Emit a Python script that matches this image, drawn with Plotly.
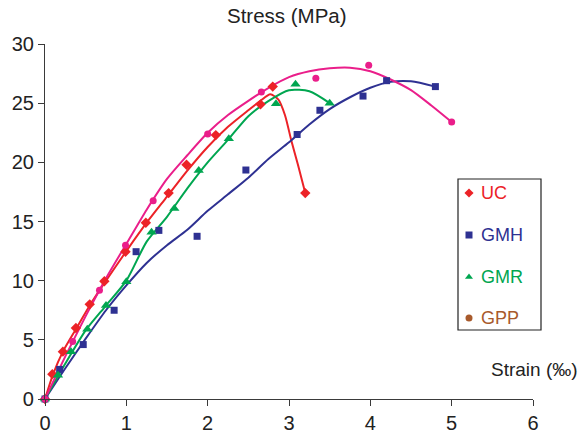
import plotly.graph_objects as go

# ---------------- data ----------------
uc_x = [0, 0.09, 0.22, 0.38, 0.55, 0.73, 0.99, 1.24, 1.52, 1.74, 2.10, 2.65, 2.80, 3.20]
uc_y = [0, 2.1, 4.0, 6.0, 8.0, 9.95, 12.45, 14.9, 17.4, 19.8, 22.3, 24.9, 26.4, 17.4]
uc_curve_x = [0, 0.1, 0.22, 0.38, 0.55, 0.75, 1.0, 1.25, 1.5, 1.75, 2.0, 2.25, 2.5, 2.65, 2.77, 2.87, 2.95, 3.03, 3.11, 3.2]
uc_curve_y = [0, 2.1, 4.0, 5.9, 7.9, 10.0, 12.5, 14.9, 17.1, 19.3, 21.3, 23.0, 24.4, 25.2, 25.75, 25.3, 24.0, 21.8, 19.8, 17.4]

gmh_x = [0, 0.18, 0.47, 0.85, 1.12, 1.40, 1.87, 2.47, 3.10, 3.38, 3.91, 4.20, 4.80]
gmh_y = [0, 2.5, 4.6, 7.5, 12.45, 14.25, 13.75, 19.35, 22.35, 24.4, 25.6, 26.9, 26.4]
gmh_curve_x = [0, 0.25, 0.5, 0.75, 1.0, 1.25, 1.5, 1.75, 2.0, 2.25, 2.5, 2.75, 3.0, 3.25, 3.5, 3.75, 4.0, 4.25, 4.5, 4.8]
gmh_curve_y = [0, 2.6, 5.1, 7.5, 9.6, 11.5, 13.0, 14.3, 15.9, 17.3, 18.7, 20.3, 21.7, 23.2, 24.5, 25.5, 26.3, 26.8, 26.85, 26.4]

gmr_x = [0, 0.16, 0.32, 0.52, 0.75, 1.0, 1.31, 1.59, 1.89, 2.26, 2.84, 3.08, 3.50]
gmr_y = [0, 2.0, 4.0, 5.9, 7.9, 9.9, 14.1, 16.1, 19.3, 22.0, 24.95, 26.6, 25.0]
gmr_curve_x = [0, 0.25, 0.5, 0.75, 1.0, 1.25, 1.5, 1.75, 2.0, 2.25, 2.5, 2.75, 3.0, 3.25, 3.5]
gmr_curve_y = [0, 3.0, 5.8, 7.9, 10.0, 13.3, 15.4, 17.8, 20.0, 21.9, 23.9, 25.2, 26.1, 26.0, 25.0]

gpp_x = [0, 0.34, 0.67, 0.99, 1.33, 2.00, 2.66, 3.33, 3.98, 5.00]
gpp_y = [0, 4.85, 9.2, 13.0, 16.75, 22.4, 25.95, 27.1, 28.2, 23.4]
gpp_curve_x = [0, 0.25, 0.5, 0.75, 1.0, 1.25, 1.5, 1.75, 2.0, 2.25, 2.5, 2.75, 3.0, 3.25, 3.5, 3.75, 4.0, 4.25, 4.5, 4.75, 5.0]
gpp_curve_y = [0, 3.6, 7.0, 10.2, 13.1, 16.0, 18.6, 20.6, 22.5, 24.0, 25.2, 26.3, 27.2, 27.7, 27.95, 28.0, 27.7, 27.0, 26.1, 24.8, 23.4]

series_names = ["UC", "GMH", "GMR", "GPP"]
x_ticks = [0, 1, 2, 3, 4, 5, 6]
y_ticks = [0, 5, 10, 15, 20, 25, 30]

# ---------------- styles ----------------
FONT = "Liberation Sans, Arial, sans-serif"
RED, BLUE, GREEN, PINK, BROWN = "#ec2227", "#2e3192", "#00a650", "#ea1e8a", "#a85a2c"
AXIS = "#3a3a3a"
W, H = 582, 434
L, R, T, B = 45, 49, 44, 35


def px(xp):
    return (xp - L) / (W - L - R)


def py(yp):
    return (H - B - yp) / (H - T - B)


series = [
    (uc_x, uc_y, uc_curve_x, uc_curve_y, RED, "diamond", 8),
    (gmh_x, gmh_y, gmh_curve_x, gmh_curve_y, BLUE, "square", 7),
    (gmr_x, gmr_y, gmr_curve_x, gmr_curve_y, GREEN, "triangle-up", 9),
    (gpp_x, gpp_y, gpp_curve_x, gpp_curve_y, PINK, "circle", 7),
]

fig = go.Figure()
for xs, ys, cx, cy, col, sym, sz in series:
    fig.add_trace(go.Scatter(x=cx, y=cy, mode="lines", line=dict(color=col, width=2, shape="spline", smoothing=0.7),
                             showlegend=False, hoverinfo="skip", cliponaxis=False))
for xs, ys, cx, cy, col, sym, sz in series:
    fig.add_trace(go.Scatter(x=xs, y=ys, mode="markers", marker=dict(color=col, symbol=sym, size=sz),
                             showlegend=False, cliponaxis=False))

# ---------------- hand-made legend (pixel overlay axes for markers) ----------------
leg_colors = [RED, BLUE, GREEN, BROWN]
leg_symbols = ["diamond", "square", "triangle-up", "circle"]
leg_box = (458, 179, 541, 330)
leg_rows = [193, 235, 277, 318]
leg_marker_x = 469
leg_text_x = 479

fig.add_trace(go.Scatter(x=[leg_marker_x] * 4, y=leg_rows, mode="markers", xaxis="x2", yaxis="y2",
                         marker=dict(color=leg_colors, symbol=leg_symbols, size=7),
                         showlegend=False, hoverinfo="skip", cliponaxis=False))
fig.add_shape(type="rect", xref="paper", yref="paper", x0=px(leg_box[0]), y0=py(leg_box[1]),
              x1=px(leg_box[2]), y1=py(leg_box[3]),
              line=dict(color="#222", width=1.2), fillcolor="rgba(255,255,255,0)")
for name, col, yy in zip(series_names, leg_colors, leg_rows):
    fig.add_annotation(x=px(leg_text_x), y=py(yy), xref="paper", yref="paper", text=name, showarrow=False,
                       xanchor="left", yanchor="middle", font=dict(family=FONT, size=18, color=col))

fig.add_annotation(x=px(287), y=py(15), xref="paper", yref="paper", text="Stress (MPa)", showarrow=False,
                   xanchor="center", yanchor="middle", font=dict(family=FONT, size=20.5, color="#222"))
fig.add_annotation(x=px(580), y=py(369), xref="paper", yref="paper", text="Strain (‰)", showarrow=False,
                   xanchor="right", yanchor="middle", font=dict(family=FONT, size=19, color="#222"))

axis_common = dict(showline=True, linecolor=AXIS, linewidth=1.2, ticks="outside", ticklen=6, tickwidth=1.2,
                   tickcolor=AXIS, showgrid=False, zeroline=False, automargin=False,
                   tickfont=dict(family=FONT, size=20, color="#222"))

fig.update_layout(
    width=W, height=H, margin=dict(l=L, r=R, t=T, b=B, autoexpand=False),
    paper_bgcolor="white", plot_bgcolor="white",
    xaxis=dict(range=[0, 6], tickvals=x_ticks, **axis_common),
    yaxis=dict(range=[0, 30], tickvals=y_ticks, **axis_common),
    xaxis2=dict(overlaying="x", range=[L, W - R], visible=False),
    yaxis2=dict(overlaying="y", range=[H - B, T], visible=False),
    showlegend=False,
)

fig.write_html("out.html")
